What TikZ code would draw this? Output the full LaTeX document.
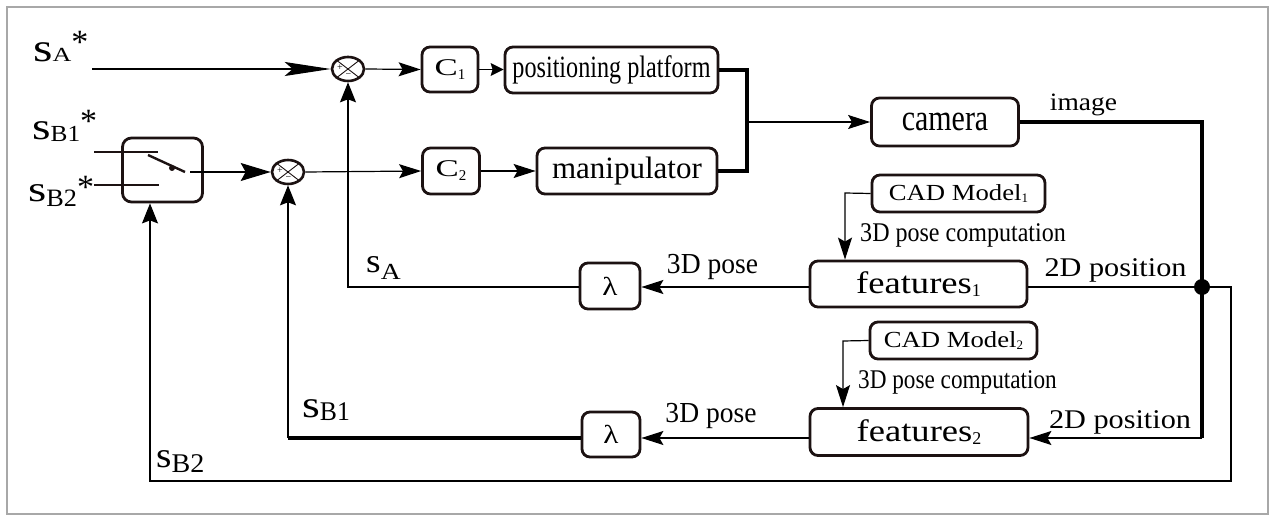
\documentclass[tikz,border=0pt]{standalone}
\usepackage{fontspec}
\setmainfont{Liberation Serif}
\usepackage{graphicx}
\usetikzlibrary{arrows.meta,shapes.geometric}
\definecolor{boxc}{HTML}{1C1212}
\definecolor{framec}{HTML}{A8A8A8}
\newcommand\lab[3]{{\fontsize{#1}{#1}\selectfont\scalebox{#2}[1]{#3}}}
\newcommand\slab[6]{\lab{#1}{#2}{s}\raisebox{-#6pt}{\lab{#4}{#5}{#3}}}
\newcommand\astk[2]{\raisebox{#2pt}{\fontsize{#1}{#1}\selectfont *}}
\begin{document}
\begin{tikzpicture}[x=1pt,y=-1pt,
 box/.style={draw=boxc,line width=2.8pt,rounded corners=8pt,inner sep=0pt},
 sumn/.style={draw=boxc,ellipse,line width=2.6pt,minimum width=32pt,minimum height=24pt,inner sep=0pt},
 ln/.style={line width=1.2pt},
 lnb/.style={line width=3.2pt},
 arr/.style={-{Stealth[length=22pt,width=14pt,inset=4pt]}},
 uparr/.style={-{Stealth[length=20pt,width=16pt,inset=3pt]}},
 bigarr/.style={-{Stealth[length=46pt,width=14pt,inset=8pt]}},
 midarr/.style={-{Stealth[length=30pt,width=18pt,inset=5pt]}},
 txt/.style={inner sep=0pt,anchor=base},
 stxt/.style={inner sep=0pt,anchor=base west},
 pm/.style={inner sep=0pt,font=\fontsize{10}{10}\selectfont},
]
\useasboundingbox (0,0) rectangle (1273,518);
\fill[white] (0,0) rectangle (1273,518);
\draw[framec,line width=2pt] (7,7) rectangle (1268,514);

% summing junctions
\node[sumn] (s1) at (348,69) {};
\node[sumn] (s2) at (288,172) {};
\draw[boxc,line width=0.9pt] (s1.north west) -- (s1.south east) (s1.north east) -- (s1.south west);
\draw[boxc,line width=0.9pt] (s2.north west) -- (s2.south east) (s2.north east) -- (s2.south west);
\node[pm] (p1) at (340,68) {+};
\node[pm] (m1) at (348.5,76) {\textminus};
\node[pm] (p2) at (280,171) {+};
\node[pm] (m2) at (288.5,179) {\textminus};

% boxes
\node[box,minimum width=56pt,minimum height=45pt] (c1) at (450,69.5) {\lab{24}{1.45}{C}\raisebox{-4pt}{\lab{15}{1}{1}}};
\node[box,minimum width=57pt,minimum height=46pt] (c2) at (451,171) {\lab{24}{1.45}{C}\raisebox{-4pt}{\lab{15}{1}{2}}};
\node[box,minimum width=213pt,minimum height=46pt] (pp) at (611.5,70) {\lab{31}{0.78}{positioning platform}};
\node[box,minimum width=180pt,minimum height=46pt] (man) at (627,171) {\lab{31}{1.0}{manipulator}};
\node[box,minimum width=147pt,minimum height=48pt] (cam) at (945,122) {\lab{37}{0.81}{camera}\hspace{24pt}};
\node[box,minimum width=173pt,minimum height=37pt] (cad1) at (958.5,193.5) {\lab{23}{1.16}{CAD Model}\raisebox{-2pt}{\lab{13}{1}{1}}\hspace{22pt}};
\node[box,minimum width=217pt,minimum height=46pt] (f1) at (918.5,284) {\lab{31}{1.18}{features}\raisebox{-3pt}{\lab{18}{1}{1}}\hspace{28pt}};
\node[box,minimum width=167pt,minimum height=37pt] (cad2) at (953.5,340.5) {\lab{23}{1.16}{CAD Model}\raisebox{-2pt}{\lab{13}{1}{2}}\hspace{16pt}};
\node[box,minimum width=218pt,minimum height=47pt] (f2) at (919,432) {\lab{31}{1.18}{features}\raisebox{-3pt}{\lab{18}{1}{2}}\hspace{38pt}};
\node[box,minimum width=60pt,minimum height=46pt] (l1) at (610,286) {\lab{26}{1.2}{λ}};
\node[box,minimum width=58pt,minimum height=45pt] (l2) at (611,434.5) {\lab{26}{1.2}{λ}};

% switch
\node[box,minimum width=80pt,minimum height=64pt,rounded corners=9pt] (sw) at (162.5,170) {};
\draw[boxc,line width=2.4pt] (94,152) -- (158,152) (94,185) -- (159,185);
\draw[boxc,line width=2.4pt] (148,155) -- (185,172);
\fill[boxc] (172,168) circle (3pt);
\coordinate (swout) at (190,172);

% coordinates
\coordinate (sastart) at (92,69);
\coordinate (jt) at (747,70);
\coordinate (jb) at (747,171);
\coordinate (jn) at (747,122);
\coordinate (imgc) at (1202,122);
\coordinate (corner2) at (1202,438);
\node[circle,fill=black,inner sep=0pt,minimum size=16pt] (dot) at (1202,287) {};
\coordinate (o1) at (1231,287);
\coordinate (o2) at (1231,481);
\coordinate (o3) at (150,481);
\coordinate (fa) at (348,287);
\coordinate (fb) at (288,438);
\coordinate (k1) at (845,193);
\coordinate (k2) at (843,341);

% forward path
\draw[ln,bigarr] (sastart) -- (s1.west);
\draw[ln,arr] (s1.east) -- (c1.west);
\draw[ln,-{Stealth[length=13pt,width=13pt,inset=2pt]}] (c1.east) -- (pp.west|-c1.east);
\draw[ln,midarr] (swout) -- (s2.west);
\draw[ln,arr] (s2.east) -- (c2.west);
\draw[ln,arr] (c2.east) -- (man.west);
\draw[lnb] (pp.east) -- (jt) -- (jb) -- (man.east);
\draw[ln,arr] (jn) -- (cam.west|-jn);
\draw[lnb] (cam.east) -- (imgc) -- (corner2);
\draw[ln,arr] (corner2) -- (f2.east|-corner2);
\draw[ln] (f1.east|-dot) -- (dot.center);
\draw[ln,uparr] (dot.center) -- (o1) -- (o2) -- (o3) -- (sw.south-|o3);
\draw[ln,arr] (cad1.west) -- (k1) -- (k1|-f1.north);
\draw[ln,arr] (cad2.west) -- (k2) -- (k2|-f2.north);
\draw[ln,arr] (f1.west|-dot) -- (l1.east|-dot);
\draw[ln,arr] (f2.west|-corner2) -- (l2.east|-corner2);
\draw[ln,uparr] (l1.west|-dot) -- (fa) -- (s1.south);
\draw[lnb] (l2.west|-corner2) -- (fb);
\draw[ln,uparr] (fb) -- (s2.south);

% labels
\node[stxt] (tsa) at (33,62) {\slab{40}{1.25}{A}{20}{1.3}{0}\astk{34}{8}};
\node[stxt] (tsb1) at (32,140) {\slab{38}{1.25}{B1}{23}{1.1}{2}\astk{34}{7}};
\node[stxt] (tsb2) at (28,202) {\slab{36}{1.3}{B2}{25}{1.05}{5}\astk{34}{3}};
\node[stxt] (fsa) at (366,273) {\slab{34}{1.1}{A}{23}{1.2}{6}};
\node[stxt] (fsb1) at (302,417) {\slab{38}{1.2}{B1}{27}{0.95}{3}};
\node[stxt] (fsb2) at (156,467) {\slab{36}{1.1}{B2}{27}{1.04}{5}};
\node[txt] (timg) at (1083.5,111) {\lab{25}{1.1}{image}};
\node[txt] (tpc1) at (963,242) {\lab{27}{0.89}{3D pose computation}};
\node[txt] (tpc2) at (957.5,388) {\lab{27}{0.86}{3D pose computation}};
\node[txt] (t2d1) at (1115.5,277) {\lab{27}{1.12}{2D position}};
\node[txt] (t2d2) at (1120,428) {\lab{27}{1.12}{2D position}};
\node[txt] (t3d1) at (712.5,274) {\lab{29}{0.95}{3D pose}};
\node[txt] (t3d2) at (711,422) {\lab{29}{0.95}{3D pose}};
\end{tikzpicture}
\end{document}
